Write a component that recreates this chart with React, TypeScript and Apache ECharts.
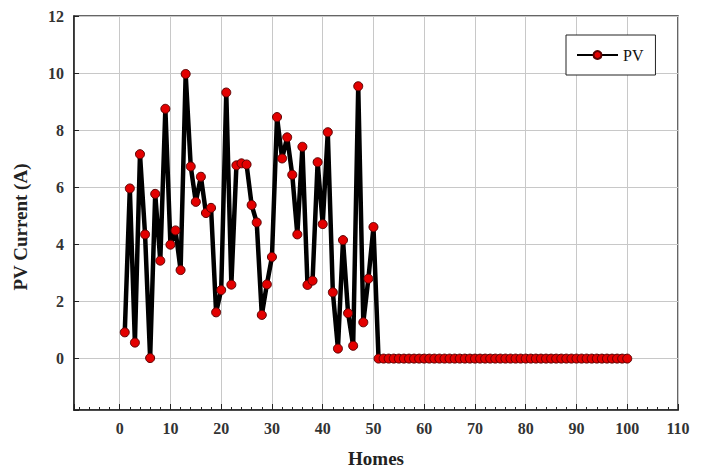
import React, { useEffect, useRef } from "react";
import * as echarts from "echarts";

const homes: number[] = Array.from({ length: 100 }, (_, i) => i + 1);
const pvFirst50: number[] = [
  0.92, 5.96, 0.56, 7.16, 4.35, 0.02, 5.77, 3.43, 8.75, 3.99,
  4.49, 3.1, 9.97, 6.73, 5.49, 6.37, 5.1, 5.28, 1.62, 2.4,
  9.32, 2.59, 6.77, 6.84, 6.8, 5.38, 4.77, 1.53, 2.6, 3.56,
  8.46, 7.01, 7.75, 6.44, 4.35, 7.42, 2.58, 2.73, 6.88, 4.71,
  7.93, 2.32, 0.35, 4.15, 1.59, 0.45, 9.54, 1.27, 2.8, 4.61,
];
const pvLast50: number[] = [
  0, 0, 0, 0, 0, 0, 0, 0, 0, 0,
  0, 0, 0, 0, 0, 0, 0, 0, 0, 0,
  0, 0, 0, 0, 0, 0, 0, 0, 0, 0,
  0, 0, 0, 0, 0, 0, 0, 0, 0, 0,
  0, 0, 0, 0, 0, 0, 0, 0, 0, 0,
];
const pvCurrent: number[] = [...pvFirst50, ...pvLast50];

const FONT = "'Liberation Serif', 'Times New Roman', serif";

export default function App() {
  const ref = useRef<HTMLDivElement>(null);
  useEffect(() => {
    if (!ref.current) return;
    const chart = echarts.init(ref.current, undefined, { renderer: "svg" });
    chart.setOption({
      animation: false,
      backgroundColor: "#ffffff",
      grid: {
        left: 74,
        top: 16,
        right: 27,
        bottom: 58,
        containLabel: false,
        outerBoundsMode: "none",
        show: true,
        borderColor: "#333",
        borderWidth: 1.5,
        backgroundColor: "transparent",
      },
      legend: {
        left: 566,
        top: 35,
        orient: "horizontal",
        backgroundColor: "#fff",
        borderColor: "#222",
        borderWidth: 1,
        padding: [12, 12, 12, 10],
        itemWidth: 41,
        itemHeight: 10,
        itemGap: 5,
        textStyle: { fontFamily: FONT, fontSize: 16, color: "#111" },
        data: ["PV"],
      },
      xAxis: {
        type: "value",
        min: -9,
        max: 110,
        splitNumber: 12,
        minInterval: 10,
        maxInterval: 10,
        name: "Homes",
        nameLocation: "middle",
        nameGap: 38,
        nameTextStyle: { fontFamily: FONT, fontSize: 19, fontWeight: "bold", color: "#222", lineHeight: 20 },
        axisLine: { show: true, onZero: false, lineStyle: { color: "#222", width: 1.5 } },
        axisTick: { show: true, inside: true, length: 6, lineStyle: { color: "#222" } },
        minorTick: { show: true, splitNumber: 5, length: 3, lineStyle: { color: "#222" } },
        splitLine: { show: true, lineStyle: { color: "#c8c8c8", width: 1 } },
        axisLabel: {
          fontFamily: FONT,
          fontSize: 16,
          fontWeight: "bold",
          color: "#333",
          margin: 10,
          formatter: (v: number) => (v >= 0 && v % 10 === 0 ? String(v) : ""),
        },
      },
      yAxis: {
        type: "value",
        min: -1.8,
        max: 12,
        splitNumber: 7,
        minInterval: 2,
        maxInterval: 2,
        name: "PV Current (A)",
        nameLocation: "middle",
        nameGap: 44,
        nameTextStyle: {
          fontFamily: FONT,
          fontSize: 19,
          fontWeight: "bold",
          color: "#222",
          padding: [0, 28, 0, 0],
        },
        axisLine: { show: true, onZero: false, lineStyle: { color: "#222", width: 1.5 } },
        axisTick: { show: true, inside: true, length: 5, lineStyle: { color: "#222" } },
        splitLine: { show: true, lineStyle: { color: "#c8c8c8", width: 1 } },
        axisLabel: {
          fontFamily: FONT,
          fontSize: 16,
          fontWeight: "bold",
          color: "#333",
          margin: 10,
          formatter: (v: number) => (v >= 0 ? String(v) : ""),
        },
      },
      series: [
        {
          name: "PV",
          type: "line",
          data: homes.map((h, i) => [h, pvCurrent[i]]),
          symbol: "circle",
          symbolSize: 9,
          showSymbol: true,
          lineStyle: { color: "#000", width: 4.5 },
          itemStyle: { color: "#e30000", borderColor: "#5a0000", borderWidth: 1 },
        },
      ],
    });
    return () => chart.dispose();
  }, []);
  return (
    <div
      ref={ref}
      style={{ position: "fixed", left: 0, top: 0, width: 705, height: 468, background: "#fff" }}
    />
  );
}
